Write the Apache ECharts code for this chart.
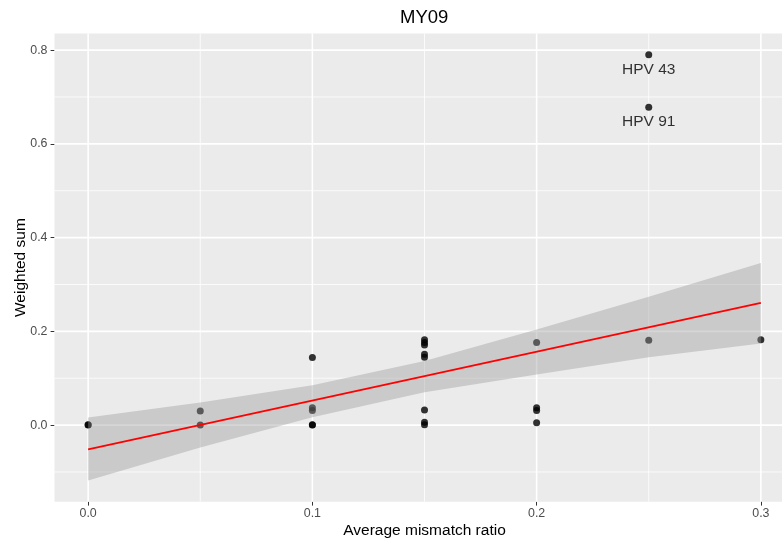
<!DOCTYPE html>
<html><head><meta charset="utf-8">
<script src="https://cdn.jsdelivr.net/npm/echarts@6/dist/echarts.min.js"></script>
<style>html,body{margin:0;padding:0;background:#fff}#c{width:782px;height:542px}</style>
</head><body><div id="c"></div>
<script>
// ---- data ----
const pointX = [0, 0, 0.05, 0.05, 0.1, 0.1, 0.1, 0.1, 0.1, 0.15, 0.15, 0.15, 0.15, 0.15, 0.15, 0.15, 0.15, 0.2, 0.2, 0.2, 0.2, 0.25, 0.3];
const pointY = [0, 0.001, 0.03, 0, 0.144, 0.037, 0.031, 0, 0.001, 0.182, 0.176, 0.171, 0.151, 0.145, 0.032, 0.006, 0.001, 0.176, 0.037, 0.031, 0.005, 0.181, 0.182];
const labelNames = ['HPV 43', 'HPV 91'];
const labelX = [0.25, 0.25];
const labelY = [0.79, 0.678];
const fitX = [0, 0.3];
const fitY = [-0.052, 0.261];
const bandX = [0, 0.05, 0.1, 0.15, 0.2, 0.25, 0.3];
const bandUpper = [0.016, 0.048, 0.085, 0.137, 0.204, 0.274, 0.346];
const bandLower = [-0.118, -0.048, 0.017, 0.070, 0.108, 0.145, 0.174];
const xMajor = [0, 0.1, 0.2, 0.3];
const xMinor = [0.05, 0.15, 0.25];
const yMajor = [0, 0.2, 0.4, 0.6, 0.8];
const yMinor = [-0.1, 0.1, 0.3, 0.5, 0.7];
const xTickLabels = ['0.0', '0.1', '0.2', '0.3'];
const yTickLabels = ['0.0', '0.2', '0.4', '0.6', '0.8'];

const FONT = 'Liberation Sans';
const chart = echarts.init(document.getElementById('c'));

function vLines(width) {
  return function (params, api) {
    const cs = params.coordSys;
    const p = api.coord([api.value(0), 0]);
    return { type: 'line', shape: { x1: p[0], y1: cs.y, x2: p[0], y2: cs.y + cs.height },
      style: { stroke: '#FFFFFF', lineWidth: width }, silent: true };
  };
}
function hLines(width) {
  return function (params, api) {
    const cs = params.coordSys;
    const p = api.coord([0, api.value(0)]);
    return { type: 'line', shape: { x1: cs.x, y1: p[1], x2: cs.x + cs.width, y2: p[1] },
      style: { stroke: '#FFFFFF', lineWidth: width }, silent: true };
  };
}

const bandPoly = [];
bandX.forEach((x, i) => bandPoly.push([x, bandUpper[i]]));
for (let i = bandX.length - 1; i >= 0; i--) bandPoly.push([bandX[i], bandLower[i]]);

function fmt(list, labels) {
  return function (v) {
    for (let i = 0; i < list.length; i++) if (Math.abs(v - list[i]) < 1e-6) return labels[i];
    return '';
  };
}

chart.setOption({
  animation: false,
  backgroundColor: '#FFFFFF',
  graphic: [{
    type: 'text', left: 424 - 24, top: 8,
    style: { text: 'MY09', fontFamily: FONT, fontSize: 18.5, fill: '#000000' }
  }],
  grid: { left: 54.5, right: -12.5, top: 33.5, bottom: 40.3, outerBoundsMode: 'none', containLabel: false,
    show: true, backgroundColor: '#EBEBEB', borderWidth: 0 },
  xAxis: {
    type: 'value', min: -0.015, max: 0.315,
    name: 'Average mismatch ratio', nameLocation: 'middle', nameGap: 21, nameMoveOverlap: false,
    nameTextStyle: { fontFamily: FONT, fontSize: 15.5, color: '#000000' },
    axisLine: { show: false, onZero: false },
    axisTick: { show: true, length: 3.9, lineStyle: { color: '#333333', width: 1 }, customValues: xMajor },
    axisLabel: { margin: 6, fontFamily: FONT, fontSize: 12.4, color: '#4D4D4D', customValues: xMajor, formatter: fmt(xMajor, xTickLabels) },
    splitLine: { show: false }
  },
  yAxis: {
    type: 'value', min: -0.1634, max: 0.8354,
    name: 'Weighted sum', nameLocation: 'middle', nameGap: 26, nameMoveOverlap: false,
    nameTextStyle: { fontFamily: FONT, fontSize: 15.5, color: '#000000' },
    axisLine: { show: false, onZero: false },
    axisTick: { show: true, length: 3.9, lineStyle: { color: '#333333', width: 1 }, customValues: yMajor },
    axisLabel: { margin: 7, fontFamily: FONT, fontSize: 12.4, color: '#4D4D4D', customValues: yMajor, formatter: fmt(yMajor, yTickLabels) },
    splitLine: { show: false }
  },
  series: [
    { type: 'custom', z: 1, silent: true, data: xMinor.map(v => [v]), renderItem: vLines(0.8) },
    { type: 'custom', z: 1, silent: true, data: yMinor.map(v => [v]), renderItem: hLines(0.8) },
    { type: 'custom', z: 1, silent: true, data: xMajor.map(v => [v]), renderItem: vLines(1.6) },
    { type: 'custom', z: 1, silent: true, data: yMajor.map(v => [v]), renderItem: hLines(1.6) },
    {
      type: 'scatter', z: 2, symbolSize: 7, silent: true,
      itemStyle: { color: '#000000' },
      data: pointX.map((x, i) => [x, pointY[i]])
    },
    {
      type: 'scatter', z: 2, symbolSize: 7, silent: true,
      itemStyle: { color: '#000000' },
      label: { show: true, position: 'bottom', distance: 3, fontFamily: FONT, fontSize: 15.5, color: '#000000',
        formatter: p => labelNames[p.dataIndex] },
      data: labelX.map((x, i) => [x, labelY[i]])
    },
    {
      type: 'custom', z: 3, silent: true, data: [[0, 0]],
      renderItem: function (params, api) {
        return { type: 'polygon', shape: { points: bandPoly.map(p => api.coord(p)) },
          style: { fill: 'rgba(153,153,153,0.4)' } };
      }
    },
    {
      type: 'line', z: 4, silent: true, symbol: 'none',
      lineStyle: { color: '#FF0000', width: 1.8 },
      data: fitX.map((x, i) => [x, fitY[i]])
    }
  ]
});
</script></body></html>
